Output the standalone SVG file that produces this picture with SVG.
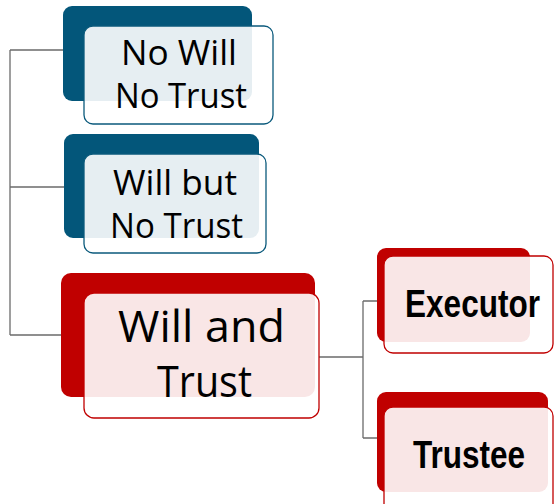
<svg xmlns="http://www.w3.org/2000/svg" width="555" height="504" viewBox="0 0 555 504">
<style>
.back-b{fill:#03567a}
.back-r{fill:#c00000}
.front-b{fill:#ffffff;fill-opacity:0.9;stroke:#0b5a7c;stroke-width:1.3}
.front-r{fill:#ffffff;fill-opacity:0.9;stroke:#c00000;stroke-width:1.3}
.t{font-family:"Open Sans","Noto Sans","Liberation Sans",sans-serif;fill:#000}
.tb{font-family:"Liberation Sans",Arial,sans-serif;font-weight:bold;fill:#000}
.conn{fill:none;stroke:#6b6b6b;stroke-width:1.3}
</style>
<rect width="555" height="504" fill="#ffffff"/>
<g id="connectors">
<path class="conn" d="M10,50 V335 M10,50 H63 M10,187 H64 M10,335 H61"/>
<path class="conn" d="M319,357 H363 M363,301 V438 M363,301 H377 M363,438 H377"/>
</g>
<g id="node-no-will">
<rect class="back-b" x="63" y="6" width="189" height="95" rx="9"/>
<rect class="front-b" x="84" y="26" width="189" height="98" rx="9"/>
<text class="t" font-size="34" x="121" y="65" textLength="116" lengthAdjust="spacingAndGlyphs">No Will</text>
<text class="t" font-size="34" x="115" y="108" textLength="132" lengthAdjust="spacingAndGlyphs">No Trust</text>
</g>
<g id="node-will-but">
<rect class="back-b" x="64" y="134" width="195" height="104" rx="9"/>
<rect class="front-b" x="84" y="154" width="182" height="99" rx="9"/>
<text class="t" font-size="34" x="113" y="195" textLength="124" lengthAdjust="spacingAndGlyphs">Will but</text>
<text class="t" font-size="34" x="110" y="238" textLength="133" lengthAdjust="spacingAndGlyphs">No Trust</text>
</g>
<g id="node-will-and-trust">
<rect class="back-r" x="61" y="273" width="254" height="124" rx="10"/>
<rect class="front-r" x="84" y="293" width="235" height="125" rx="10"/>
<text class="t" font-size="44" x="118" y="342" textLength="167" lengthAdjust="spacingAndGlyphs">Will and</text>
<text class="t" font-size="44" x="157" y="397" textLength="95" lengthAdjust="spacingAndGlyphs">Trust</text>
</g>
<g id="node-executor">
<rect class="back-r" x="377" y="248" width="153" height="94" rx="9"/>
<rect class="front-r" x="384" y="256" width="169" height="97" rx="9"/>
<text class="tb" font-size="39" x="405" y="317" textLength="135" lengthAdjust="spacingAndGlyphs">Executor</text>
</g>
<g id="node-trustee">
<rect class="back-r" x="377" y="392" width="171" height="100" rx="9"/>
<rect class="front-r" x="384" y="407" width="169" height="110" rx="9"/>
<text class="tb" font-size="39" x="413" y="468" textLength="112" lengthAdjust="spacingAndGlyphs">Trustee</text>
</g>
</svg>
